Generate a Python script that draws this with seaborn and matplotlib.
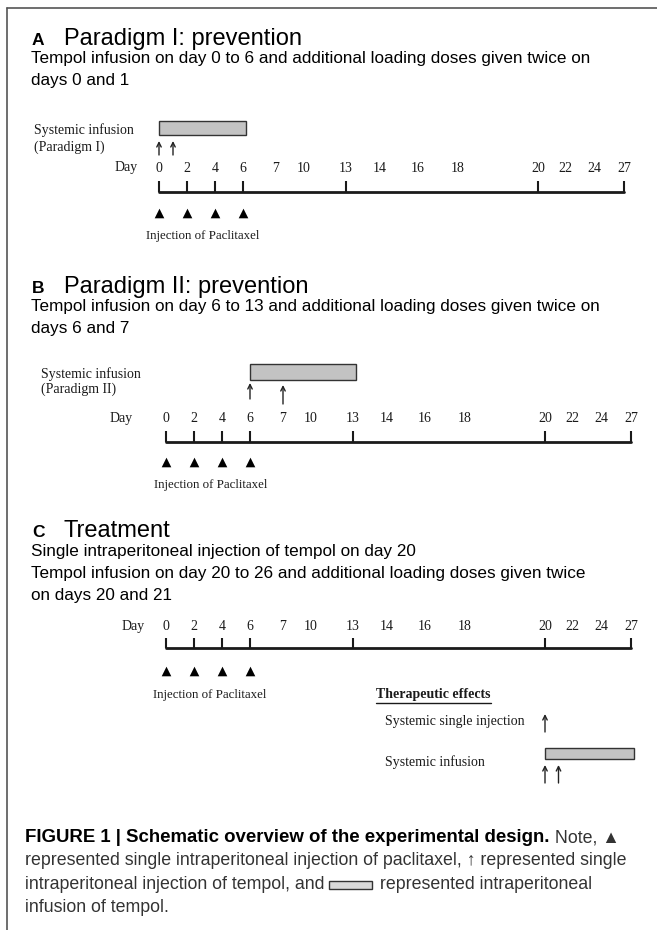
import numpy as np
import matplotlib
matplotlib.use("Agg")
import matplotlib.pyplot as plt
import seaborn as sns

# schedule (days)
days_labelled = [0, 2, 4, 6, 7, 10, 13, 14, 16, 18, 20, 22, 24, 27]
tick_days = [0, 2, 4, 6, 13, 20, 27]
paclitaxel_days = [0, 2, 4, 6]

infusion_I = (0, 6)
loading_I = [0, 1]
infusion_II = (6, 13)
loading_II = [6, 7]
single_injection_C = [20]
infusion_C = (20, 27)
loading_C = [20, 21]

# schematic (not to scale) horizontal layout of the day labels, in pixels
label_offset = [0, 28, 56, 84, 117, 145, 187, 221, 259, 299, 379, 406, 435, 465]

sns.set_theme(style="white")
plt.rcParams["font.family"] = ["Liberation Sans", "DejaVu Sans"]
SERIF = ["Liberation Serif", "DejaVu Serif"]
SANS = ["Liberation Sans", "DejaVu Sans"]
INK = "#1a1a1a"

fig = plt.figure(figsize=(6.57, 9.30), dpi=100)
ax = fig.add_axes([0, 0, 1, 1])
ax.set_xlim(0, 657)
ax.set_ylim(930, 0)
ax.axis("off")

# frame
ax.plot([7, 657], [8.5, 8.5], color="#555555", lw=1.2)
ax.plot([7, 7], [8.5, 930], color="#555555", lw=1.2)


def day_x(d, x0):
    return x0 + np.interp(d, days_labelled, label_offset)


def header(letter, title, lines, y_title, y_lines):
    ax.text(32, y_title, letter, fontsize=12.5, fontweight="bold", family=SANS,
            va="baseline", color="black")
    ax.text(64, y_title, title, fontsize=17, family=SANS, va="baseline", color="black")
    for s, y in zip(lines, y_lines):
        ax.text(31, y, s, fontsize=12.3, family=SANS, va="baseline", color="black")


def timeline(x0, day_right, y_days, y_tick, y_line, y_tri, inj_x, y_inj):
    ax.text(day_right, y_days, "Day", fontsize=10, family=SERIF, ha="right", va="center", color=INK)
    for d in days_labelled:
        ax.text(day_x(d, x0), y_days, str(d), fontsize=10, family=SERIF, ha="center",
                va="center", color=INK)
    xs = [day_x(d, x0) for d in tick_days]
    sns.lineplot(x=[xs[0], xs[-1]], y=[y_line, y_line], ax=ax, color=INK, lw=2, sort=False)
    ax.vlines(xs, y_tick, y_line, color=INK, lw=1.5)
    sns.scatterplot(x=[day_x(d, x0) for d in paclitaxel_days], y=[y_tri] * len(paclitaxel_days),
                    marker="^", s=48, color="black", linewidth=0, ax=ax)
    ax.text(inj_x, y_inj, "Injection of Paclitaxel", fontsize=9.3, family=SERIF,
            va="center", color=INK)


def infusion_bar(span, x0, y_top, y_bot):
    left = day_x(span[0], x0)
    right = day_x(span[1], x0) + 3
    ax.barh([(y_top + y_bot) / 2], [right - left], left=left, height=y_bot - y_top,
            color="#c3c3c3", edgecolor="#333333", linewidth=1)


def arrow(x, y_head, y_tail):
    ax.annotate("", xy=(x, y_head), xytext=(x, y_tail),
                arrowprops=dict(arrowstyle="->", lw=1, color="#222222",
                                mutation_scale=8, shrinkA=0, shrinkB=0))


# ---- A
header("A", "Paradigm I: prevention",
       ["Tempol infusion on day 0 to 6 and additional loading doses given twice on",
        "days 0 and 1"], 45, [63, 85])
ax.text(34, 130, "Systemic infusion", fontsize=10, family=SERIF, va="center", color=INK)
ax.text(34, 147, "(Paradigm I)", fontsize=10, family=SERIF, va="center", color=INK)
x0A = 159
infusion_bar(infusion_I, x0A, 121, 135)
for d in loading_I:
    arrow(day_x(d, x0A), 141, 155)
timeline(x0A, 138, 168, 181, 192, 213, 146, 236)

# ---- B
header("B", "Paradigm II: prevention",
       ["Tempol infusion on day 6 to 13 and additional loading doses given twice on",
        "days 6 and 7"], 293, [311, 333])
ax.text(41, 374, "Systemic infusion", fontsize=10, family=SERIF, va="center", color=INK)
ax.text(41, 389, "(Paradigm II)", fontsize=10, family=SERIF, va="center", color=INK)
x0B = 166
infusion_bar(infusion_II, x0B, 364, 380)
arrow(day_x(loading_II[0], x0B), 383, 399)
arrow(day_x(loading_II[1], x0B), 385, 404)
timeline(x0B, 133, 418, 431, 442, 462, 154, 485)

# ---- C
header("C", "Treatment",
       ["Single intraperitoneal injection of tempol on day 20",
        "Tempol infusion on day 20 to 26 and additional loading doses given twice",
        "on days 20 and 21"], 537, [556, 578, 600])
x0C = 166
timeline(x0C, 145, 626, 638, 648, 671, 153, 695)
fig.canvas.draw()
r = fig.canvas.get_renderer()
inv = ax.transData.inverted()
t = ax.text(376, 694, "Therapeutic effects", fontsize=10, fontweight="bold", family=SERIF,
            va="center", color=INK)
bb = t.get_window_extent(r)
ax.plot([inv.transform((bb.x0, 0))[0], inv.transform((bb.x1, 0))[0]], [703, 703], color=INK, lw=1)
ax.text(385, 721, "Systemic single injection", fontsize=10, family=SERIF, va="center", color=INK)
for d in single_injection_C:
    arrow(day_x(d, x0C), 714, 732)
ax.text(385, 762, "Systemic infusion", fontsize=10, family=SERIF, va="center", color=INK)
infusion_bar(infusion_C, x0C, 748, 759)
for d in loading_C:
    arrow(day_x(d, x0C), 765, 783)

# ---- caption
CAP = "#333333"
CAPFS = 12.8


def run(x, y, s, size=CAPFS, **kw):
    t = ax.text(x, y, s, fontsize=size, family=SANS, va="baseline", **kw)
    bb = t.get_window_extent(r)
    return inv.transform((bb.x1, bb.y0))[0]


x = run(25, 842, "FIGURE 1 | Schematic overview of the experimental design.", size=13.4,
        fontweight="bold", color="black")
run(x, 842, " Note, \u25b2", color=CAP)
run(25, 865, "represented single intraperitoneal injection of paclitaxel, \u2191 represented single",
    color=CAP)
x = run(25, 889, "intraperitoneal injection of tempol, and ", color=CAP)
ax.barh([885], [43], left=x, height=8, color="#d9d9d9", edgecolor="#333333", linewidth=1)
run(x + 46, 889, " represented intraperitoneal", color=CAP)
run(25, 912, "infusion of tempol.", color=CAP)

fig.savefig("out.png", dpi=100)
